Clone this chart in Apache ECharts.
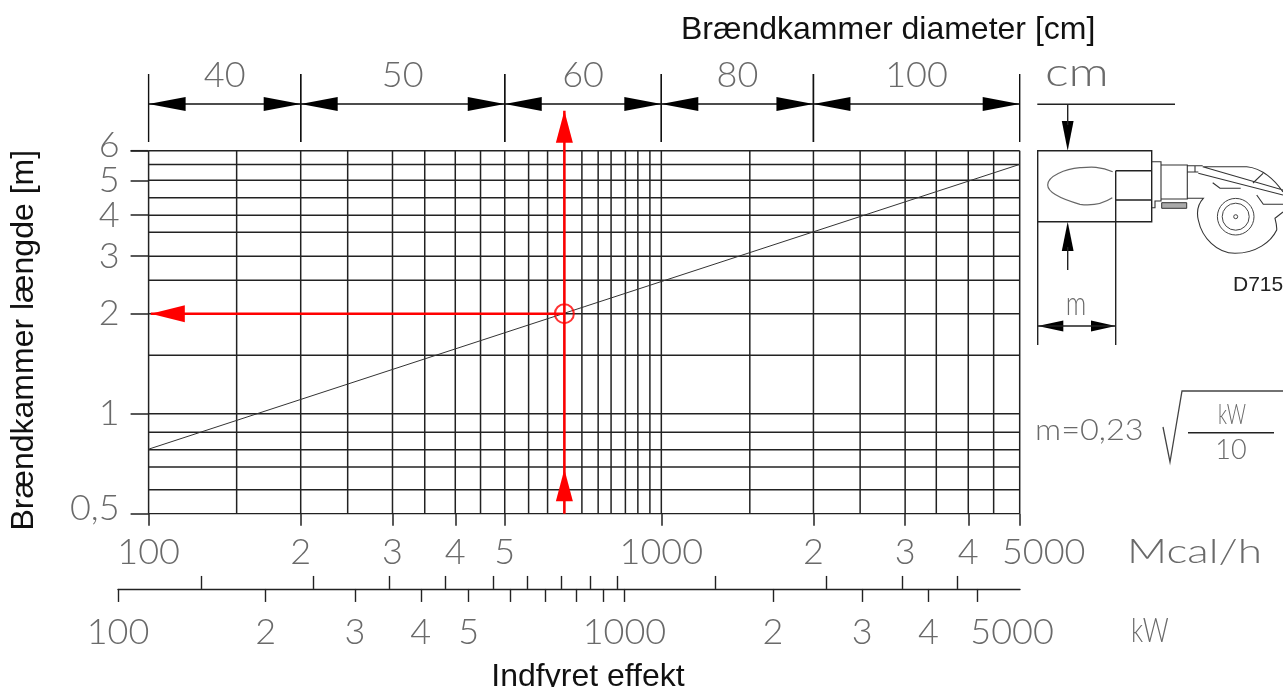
<!DOCTYPE html>
<html><head><meta charset="utf-8">
<script src="https://cdn.jsdelivr.net/npm/echarts@6/dist/echarts.min.js"></script>
<style>html,body{margin:0;padding:0;background:#fff}#c{width:1283px;height:687px}</style></head>
<body><div id="c"></div>
<script>
// ---- data ----
const mcalGrid = [100,148.5,198,244.5,299,345.6,396.4,444,495,551,600,647,700,753,798,851,900,950,1000,1488,1980,2442,2989,3438,3969,4448,5000];
const lengthGrid = [0.5,0.59,0.691,0.779,0.879,1,1.5,2,2.52,2.98,3.52,3.96,4.47,5.04,5.63,6.19];
const lengthTicks = [0.5,1,2,2.98,3.96,5.04,6.19];
const lengthTickLabels = ['0,5','1','2','3','4','5',''];
const lengthTopTick = 6.19, lengthTopLabel = '6';
const mcalTicks = [100,198,299,396.4,495,1000,1980,2989,3969,5000];
const mcalTickLabels = ['100','2','3','4','5','1000','2','3','4','5000'];
const kwTicksDown = [100,195.8,294,396.6,493,594.7,700,806.3,910,1002,1968,2954,3997,4984];
const kwLabelTicks = [100,195.8,294,396.6,493,1002,1968,2954,3997,4984];
const kwTickLabels = ['100','2','3','4','5','1000','2','3','4','5000'];
const kwTicksUp = [145.8,242.6,343.2,442.6,550.3,643.9,752.9,855.8,967.4,1515,2507,3543,4547];
const diameterFrom = [100,198,495,1000,1980];
const diameterTo = [198,495,1000,1980,5000];
const diameterLabels = ['40','50','60','80','100'];
const burnerLine = [[100,0.782],[5000,5.63]];
const readOffPower = 647, readOffLength = 2;
const redUpTip = 8.17, redLowerTip = 0.68, redLeftTip = 101;

const CAD = '"Lato"', GREY = '#6a6a6a', INK = '#222222', RED = '#ff0000';
const SANS = '"Liberation Sans"';
const cadText = {color:GREY,fontFamily:CAD,fontWeight:300,fontSize:36};

function triangle(x,y,dx,dy,len,half,fill){
  const bx=x-dx*len, by=y-dy*len, nx=-dy*half, ny=dx*half;
  return {type:'polygon',shape:{points:[[x,y],[bx+nx,by+ny],[bx-nx,by-ny]]},style:{fill}};
}

const series = [];
mcalGrid.forEach(v=>series.push({type:'line',xAxisIndex:0,yAxisIndex:0,symbol:'none',silent:true,z:2,
  lineStyle:{color:INK,width:1.5},data:[[v,lengthGrid[0]],[v,lengthTopTick]]}));
lengthGrid.forEach(v=>series.push({type:'line',xAxisIndex:0,yAxisIndex:0,symbol:'none',silent:true,z:2,
  lineStyle:{color:INK,width:1.5},data:[[100,v],[5000,v]]}));
// tick and label at the top of the length scale
series.push({type:'custom',xAxisIndex:0,yAxisIndex:0,silent:true,z:2,clip:false,data:[[100,lengthTopTick]],
  renderItem(p,api){
    const c=api.coord([api.value(0),api.value(1)]);
    return {type:'group',children:[
      {type:'line',shape:{x1:c[0]-18,y1:c[1],x2:c[0],y2:c[1]},style:{stroke:INK,lineWidth:1.5}},
      {type:'text',x:c[0]-29,y:c[1]-5,style:{text:lengthTopLabel,align:'right',verticalAlign:'middle',fill:GREY,font:'300 36px '+CAD}}
    ]};
  }});
series.push({type:'line',name:'burner',xAxisIndex:0,yAxisIndex:0,symbol:'none',silent:true,z:3,
  lineStyle:{color:'#333',width:1},data:burnerLine});
series.push({type:'line',xAxisIndex:0,yAxisIndex:0,symbol:'none',silent:true,z:5,clip:false,
  lineStyle:{color:RED,width:2.5},data:[[readOffPower,0.5],[readOffPower,redUpTip]]});
series.push({type:'line',xAxisIndex:0,yAxisIndex:0,symbol:'none',silent:true,z:5,clip:false,
  lineStyle:{color:RED,width:2.5},data:[[readOffPower,readOffLength],[redLeftTip,readOffLength]]});
series.push({type:'scatter',xAxisIndex:0,yAxisIndex:0,symbol:'circle',symbolSize:19,silent:true,z:6,
  itemStyle:{color:'rgba(0,0,0,0)',borderColor:RED,borderWidth:2},data:[[readOffPower,readOffLength]]});
series.push({type:'custom',xAxisIndex:0,yAxisIndex:0,silent:true,z:6,clip:false,
  data:[[readOffPower,redUpTip,0,-1],[readOffPower,redLowerTip,0,-1],[redLeftTip,readOffLength,-1,0]],
  renderItem(p,api){
    const c=api.coord([api.value(0),api.value(1)]);
    const dx=api.value(2),dy=api.value(3);
    return triangle(c[0],c[1],dx,dy,dx?34:32,8.5,RED);
  }});
// diameter dimension band
series.push({type:'custom',xAxisIndex:2,yAxisIndex:2,silent:true,z:4,clip:false,
  data:diameterFrom.map((f,i)=>[f,diameterTo[i],i]),
  renderItem(p,api){
    const a=api.coord([api.value(0),0.559]), b=api.coord([api.value(1),0.559]);
    const top=api.coord([api.value(0),1])[1], bot=api.coord([api.value(0),0])[1];
    const s={stroke:'#111',lineWidth:1.4};
    const kids=[
      {type:'line',shape:{x1:a[0],y1:a[1],x2:b[0],y2:b[1]},style:s},
      {type:'line',shape:{x1:a[0],y1:top,x2:a[0],y2:bot},style:s},
      {type:'line',shape:{x1:b[0],y1:top,x2:b[0],y2:bot},style:s},
      triangle(a[0],a[1],-1,0,37,7,'#000'),
      triangle(b[0],b[1],1,0,37,7,'#000'),
      {type:'text',x:(a[0]+b[0])/2,y:top+1,style:{text:diameterLabels[api.value(2)],align:'center',verticalAlign:'middle',
        fill:GREY,font:'300 36px '+CAD}}
    ];
    return {type:'group',children:kids};
  }});
// burner sketch beside the chart
const sketchPaths = [
  ['M1037.3 104.3H1175M1067.7 104.3V125M1067.7 247V270M1037.7 150.7H1151.7V221.7H1037.7ZM1115.7 170.7H1151.7M1115.7 200H1151.7M1115.7 170.7V345M1037.7 221.7V345M1037.7 326H1115.7','#222',1.4],
  ['M1112.7 171.7C1100 166 1090 167 1080 167.7C1065 169 1047.7 176 1047.7 185C1047.7 193 1065 200 1080 204.3C1092 206 1104 203 1112.3 197.7','#666',1.2],
  ['M1151.7 161.7H1161V201H1155V207.7H1151.7M1161 165H1187.3V199H1161M1187.3 165.7H1202.7M1195 165.7V172M1187.3 172H1198.3M1202.7 166.7H1246.7C1262 168 1275 180 1283 192M1198.3 173.3L1283 195M1202.7 166.7L1283 190M1253 183L1263 173.3M1256.7 195L1263.3 204.3H1283M1212.7 182.7L1220 188.3H1240.7M1187.3 198.3H1203.3C1197 205 1196.5 212 1198.3 220C1202 238 1217 253.3 1235 253.3C1256 253.3 1271 242 1276.7 230C1277 226 1276 222 1275 218.3L1283 212','#333',1.1]
];
series.push({type:'custom',coordinateSystem:'none',silent:true,z:4,data:[0],
  renderItem(){
    return {type:'group',children:sketchPaths.map(([d,c,w])=>({type:'path',shape:{pathData:d},style:{stroke:c,lineWidth:w,fill:'none'}}))};
  }});

const option = {
  animation:false,
  backgroundColor:'#fff',
  title:[
    {text:'Brændkammer diameter [cm]',left:676,top:9,textStyle:{fontFamily:SANS,fontWeight:'normal',fontSize:32,color:'#111'}}
  ],
  grid:[
    {left:148.6,top:150.7,width:871.1,height:363},
    {left:118,top:588.7,width:902,height:1},
    {left:148.6,top:74,width:871.1,height:68}
  ],
  xAxis:[
    {type:'log',gridIndex:0,min:100,max:5000,logBase:10,position:'bottom',
      splitLine:{show:false},minorTick:{show:false},
      axisLine:{show:false},
      axisTick:{show:true,customValues:mcalTicks,length:12,lineStyle:{color:INK,width:1.5}},
      axisLabel:{show:true,customValues:mcalTicks,margin:21,...cadText,hideOverlap:false,
        formatter:(v)=>{const t=mcalTickLabels[mcalTicks.indexOf(v)]??'';return v===5000?'{a|'+t+'}':t;},
        rich:{a:{...cadText,padding:[0,0,0,48]}}}},
    {type:'log',gridIndex:1,min:100,max:6060,logBase:10,position:'bottom',
      name:'Indfyret effekt',nameLocation:'middle',nameGap:72,
      nameTextStyle:{fontFamily:SANS,fontSize:32,color:'#111',padding:[0,0,0,38]},
      splitLine:{show:false},
      axisLine:{show:true,lineStyle:{color:'#222',width:1.4}},
      axisTick:{show:true,customValues:kwTicksDown,length:13,lineStyle:{color:'#222',width:1.4}},
      axisLabel:{show:true,customValues:kwLabelTicks,margin:25,...cadText,hideOverlap:false,
        formatter:(v)=>{const t=kwTickLabels[kwLabelTicks.indexOf(v)]??'';return v===4984?'{a|'+t+'}':t;},
        rich:{a:{...cadText,padding:[0,0,0,70]}}}},
    {type:'log',gridIndex:2,min:100,max:5000,logBase:10,show:false},
    {type:'log',gridIndex:1,min:100,max:6060,logBase:10,position:'bottom',
      splitLine:{show:false},axisLine:{show:false},axisLabel:{show:false},
      axisTick:{show:true,inside:true,customValues:kwTicksUp,length:13,lineStyle:{color:'#222',width:1.4}}}
  ],
  yAxis:[
    {type:'log',gridIndex:0,min:0.5,max:6.19,logBase:10,
      name:'Brændkammer længde [m]',nameLocation:'middle',nameGap:108,nameRotate:90,
      nameTextStyle:{fontFamily:SANS,fontSize:32,color:'#111',padding:[0,16,0,0]},
      splitLine:{show:false},axisLine:{show:false},
      axisTick:{show:true,customValues:lengthTicks,length:18,lineStyle:{color:INK,width:1.5}},
      axisLabel:{show:true,customValues:lengthTicks,margin:29,...cadText,hideOverlap:false,
        formatter:(v)=>{const t=lengthTickLabels[lengthTicks.indexOf(v)]??'';return v===0.5?'{low|'+t+'}':t;},
        rich:{low:{...cadText,padding:[0,0,11,0]}}}},
    {type:'value',gridIndex:1,min:0,max:1,show:false},
    {type:'value',gridIndex:2,min:0,max:1,show:false}
  ],
  graphic:{elements:[
    {type:'text',x:1045,y:53,scaleX:1.25,style:{text:'cm',fill:GREY,font:'300 40px '+CAD}},
    {type:'text',x:1127,y:535,scaleX:1.3,style:{text:'Mcal/h',fill:GREY,font:'300 34px '+CAD}},
    {type:'text',x:1131,y:614,scaleX:0.75,style:{text:'kW',fill:GREY,font:'300 34px '+CAD}},
    {type:'text',x:1035,y:416,scaleX:1.12,style:{text:'m=0,23',fill:GREY,font:'300 29px '+CAD}},
    {type:'text',x:1218,y:402,scaleX:0.7,style:{text:'kW',fill:GREY,font:'300 27px '+CAD}},
    {type:'text',x:1231,y:450,style:{text:'10',fill:GREY,align:'center',verticalAlign:'middle',font:'300 27px '+CAD}},
    {type:'text',x:1076,y:304,scaleX:0.75,style:{text:'m',fill:GREY,align:'center',verticalAlign:'middle',font:'300 34px '+CAD}},
    {type:'text',x:1233,y:275,style:{text:'D715',fill:'#222',font:'21px '+SANS}},
    {type:'polyline',shape:{points:[[1163,427],[1170,462],[1182,391],[1283,391]]},style:{stroke:'#444',lineWidth:1.3,fill:null}},
    {type:'line',shape:{x1:1188,y1:432.7,x2:1274,y2:432.7},style:{stroke:'#222',lineWidth:1.4}},
    {type:'polygon',shape:{points:[[1067.7,150.7],[1061.8,121],[1073.6,121]]},style:{fill:'#000'}},
    {type:'polygon',shape:{points:[[1067.7,221.7],[1061.8,251],[1073.6,251]]},style:{fill:'#000'}},
    {type:'polygon',shape:{points:[[1037.7,326],[1063.3,320.6],[1063.3,331.4]]},style:{fill:'#000'}},
    {type:'polygon',shape:{points:[[1115.7,326],[1091,320.6],[1091,331.4]]},style:{fill:'#000'}},
    {type:'rect',shape:{x:1161.7,y:202.7,width:25,height:5.6},style:{fill:'#aaa',stroke:'#333',lineWidth:1}},
    {type:'circle',shape:{cx:1235.7,cy:216.7,r:18.3},style:{stroke:'#444',lineWidth:1,fill:null}},
    {type:'circle',shape:{cx:1235.7,cy:216.7,r:13.5},style:{stroke:'#444',lineWidth:1,fill:null}},
    {type:'circle',shape:{cx:1235.7,cy:216.7,r:2},style:{stroke:'#444',lineWidth:1,fill:null}}
  ]},
  series
};
echarts.init(document.getElementById('c')).setOption(option);
</script></body></html>
